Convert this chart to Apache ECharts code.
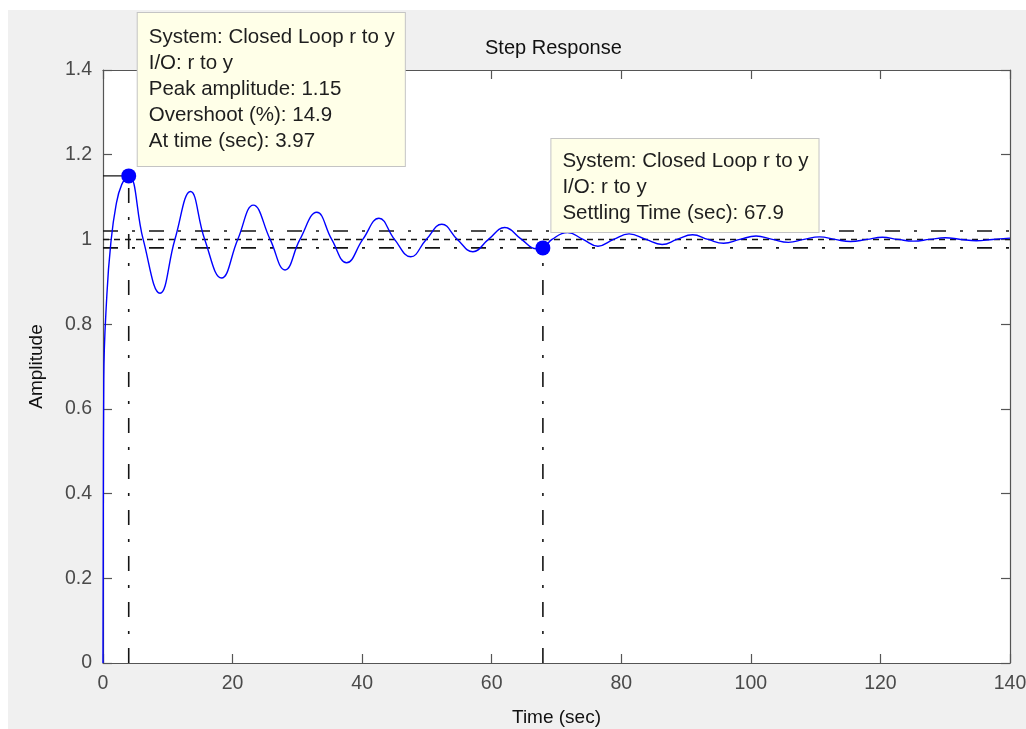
<!DOCTYPE html>
<html>
<head>
<meta charset="utf-8">
<title>Step Response</title>
<script src="https://cdn.jsdelivr.net/npm/echarts@6/dist/echarts.min.js"></script>
<style>
  html, body { margin: 0; padding: 0; background: #ffffff; }
  #chart { position: absolute; left: 8px; top: 10px; width: 1018px; height: 719px; }
</style>
</head>
<body>
<div id="chart"></div>
<script>
// Closed-loop step response r -> y (peaks, troughs and crossings of the final value)
const timeSec = [
  0, 0.12, 0.6, 1.2, 2.0, 2.9, 3.97, 6.2, 8.8, 11.1, 13.5, 15.7, 18.3, 20.8, 23.2,
  25.8, 28.1, 30.4, 33.0, 35.3, 37.6, 40.1, 42.6, 45.0, 47.5, 49.9, 52.3, 54.7,
  57.1, 59.5, 62.0, 64.6, 66.9, 67.9, 69.3, 71.7, 74.1, 76.4, 78.8, 81.2, 83.8,
  86.3, 88.6, 91.0, 93.4, 95.8, 98.3, 100.8, 103.3, 105.8, 108.2, 110.6, 113.0,
  115.4, 117.9, 120.3, 122.7, 125.1, 127.6, 130.0, 132.4, 134.8, 137.3, 140
];
const amplitude = [
  0, 0.67, 0.87, 0.99, 1.08, 1.13, 1.15, 1.0, 0.873, 1.0, 1.113, 1.0, 0.909, 1.0, 1.081,
  1.0, 0.928, 1.0, 1.064, 1.0, 0.945, 1.0, 1.050, 1.0, 0.959, 1.0, 1.036, 1.0,
  0.971, 1.0, 1.028, 1.0, 0.978, 0.98, 1.0, 1.016, 1.0, 0.984, 1.0, 1.013, 1.0,
  0.988, 1.0, 1.011, 1.0, 0.991, 1.0, 1.008, 1.0, 0.993, 1.0, 1.006, 1.0,
  0.995, 1.0, 1.005, 1.0, 0.996, 1.0, 1.004, 1.0, 0.997, 1.0, 1.003
];

// Axis ticks
const xTicks = [0, 20, 40, 60, 80, 100, 120, 140];
const xTickLabels = ['0', '20', '40', '60', '80', '100', '120', '140'];
const yTicks = [0, 0.2, 0.4, 0.6, 0.8, 1.0, 1.2, 1.4];
const yTickLabels = ['0', '0.2', '0.4', '0.6', '0.8', '1', '1.2', '1.4'];

// Step characteristics
const finalValue = 1.0;
const settleBand = [0.98, 1.02];
const peakTime = 3.97;
const peakAmplitude = 1.15;
const overshootPct = 14.9;
const settlingTime = 67.9;
const settlingAmplitude = 0.98;
const systemName = 'Closed Loop r to y';
const ioName = 'r to y';

const xMin = xTicks[0], xMax = xTicks[xTicks.length - 1];
const yMin = yTicks[0], yMax = yTicks[yTicks.length - 1];

const FONT = '"Liberation Sans", Arial, sans-serif';
const AXIS_COLOR = '#555555';
const TEXT_COLOR = '#4a4a4a';
const DASH_DOT = [15, 14, 3, 14];
const DOTTED = [6, 5];

// plot box in chart-container pixels
const GRID = { left: 95, top: 60, right: 16, bottom: 66 };

function tickLabel(ticks, labels) {
  return function (v) {
    let best = 0;
    for (let i = 1; i < ticks.length; i++) {
      if (Math.abs(ticks[i] - v) < Math.abs(ticks[best] - v)) best = i;
    }
    return labels[best];
  };
}

function refLine(data, type, width) {
  return {
    type: 'line',
    data: data,
    symbol: 'none',
    silent: true,
    animation: false,
    z: 2,
    lineStyle: { color: '#141414', width: width, type: type }
  };
}

function datatipLabel(lines, offset, padding) {
  return {
    show: true,
    position: offset,
    align: 'left',
    verticalAlign: 'bottom',
    formatter: lines.join('\n'),
    backgroundColor: '#ffffe8',
    borderColor: '#c4c4c4',
    borderWidth: 1,
    padding: padding,
    fontFamily: FONT,
    fontSize: 20.5,
    lineHeight: 26,
    color: '#1e1e1e'
  };
}

const response = timeSec.map((t, i) => [t, amplitude[i]]);

const baseXAxis = {
  type: 'value', min: xMin, max: xMax, interval: xTicks[1] - xTicks[0],
  splitLine: { show: false },
  axisLine: { show: true, onZero: false, lineStyle: { color: AXIS_COLOR, width: 1.2 } },
  axisTick: { show: true, inside: true, length: 9, lineStyle: { color: AXIS_COLOR, width: 1.2 } }
};
const baseYAxis = {
  type: 'value', min: yMin, max: yMax, interval: 0.2,
  splitLine: { show: false },
  axisLine: { show: true, onZero: false, lineStyle: { color: AXIS_COLOR, width: 1.2 } },
  axisTick: { show: true, inside: true, length: 9, lineStyle: { color: AXIS_COLOR, width: 1.2 } }
};

const chart = echarts.init(document.getElementById('chart'), null, { renderer: 'canvas' });
chart.setOption({
  animation: false,
  backgroundColor: '#f0f0f0',
  title: {
    text: 'Step Response',
    left: 472,
    top: 23,
    textStyle: { fontFamily: FONT, fontSize: 20, fontWeight: 'normal', color: '#111111' }
  },
  grid: Object.assign({
    show: true, backgroundColor: '#ffffff', borderWidth: 0,
    containLabel: false, outerBoundsMode: 'none'
  }, GRID),
  xAxis: [
    Object.assign({}, baseXAxis, {
      position: 'bottom',
      name: 'Time (sec)',
      nameLocation: 'middle',
      nameGap: 45,
      nameTextStyle: { fontFamily: FONT, fontSize: 19, color: '#111111' },
      axisLabel: {
        show: true, margin: 11, fontFamily: FONT, fontSize: 19.5, color: TEXT_COLOR,
        formatter: tickLabel(xTicks, xTickLabels)
      }
    }),
    Object.assign({}, baseXAxis, { position: 'top', axisLabel: { show: false } })
  ],
  yAxis: [
    Object.assign({}, baseYAxis, {
      position: 'left',
      name: 'Amplitude',
      nameLocation: 'middle',
      nameGap: 57,
      nameTextStyle: { fontFamily: FONT, fontSize: 19, color: '#111111' },
      axisLabel: {
        show: true, margin: 11, fontFamily: FONT, fontSize: 19.5, color: TEXT_COLOR,
        formatter: tickLabel(yTicks, yTickLabels)
      }
    }),
    Object.assign({}, baseYAxis, { position: 'right', axisLabel: { show: false } })
  ],
  series: [
    // settling band and final value
    refLine([[xMin, settleBand[1]], [xMax, settleBand[1]]], DASH_DOT, 1.6),
    refLine([[xMin, settleBand[0]], [xMax, settleBand[0]]], DASH_DOT, 1.6),
    refLine([[xMin, finalValue], [xMax, finalValue]], DOTTED, 1.6),
    // peak guides
    refLine([[xMin, peakAmplitude], [peakTime, peakAmplitude]], 'solid', 1.4),
    refLine([[peakTime, yMin], [peakTime, peakAmplitude]], DASH_DOT, 1.6),
    // settling guide
    refLine([[settlingTime, yMin], [settlingTime, settlingAmplitude]], DASH_DOT, 1.6),
    {
      name: systemName,
      type: 'line',
      data: response,
      smooth: 0.45,
      symbol: 'none',
      z: 3,
      lineStyle: { color: '#0000ff', width: 1.4 }
    },
    {
      type: 'scatter',
      data: [[peakTime, peakAmplitude]],
      symbol: 'circle',
      symbolSize: 15,
      z: 5,
      itemStyle: { color: '#0000ff', opacity: 1 },
      label: datatipLabel([
        'System: ' + systemName,
        'I/O: ' + ioName,
        'Peak amplitude: ' + peakAmplitude.toFixed(2),
        'Overshoot (%): ' + overshootPct.toFixed(1),
        'At time (sec): ' + peakTime.toFixed(2)
      ], [16.5, -2.5], [11, 10, 12, 11])
    },
    {
      type: 'scatter',
      data: [[settlingTime, settlingAmplitude]],
      symbol: 'circle',
      symbolSize: 15,
      z: 5,
      itemStyle: { color: '#0000ff', opacity: 1 },
      label: datatipLabel([
        'System: ' + systemName,
        'I/O: ' + ioName,
        'Settling Time (sec): ' + settlingTime.toFixed(1)
      ], [16, -8.5], [9, 10, 6, 11])
    }
  ]
});
</script>
</body>
</html>
